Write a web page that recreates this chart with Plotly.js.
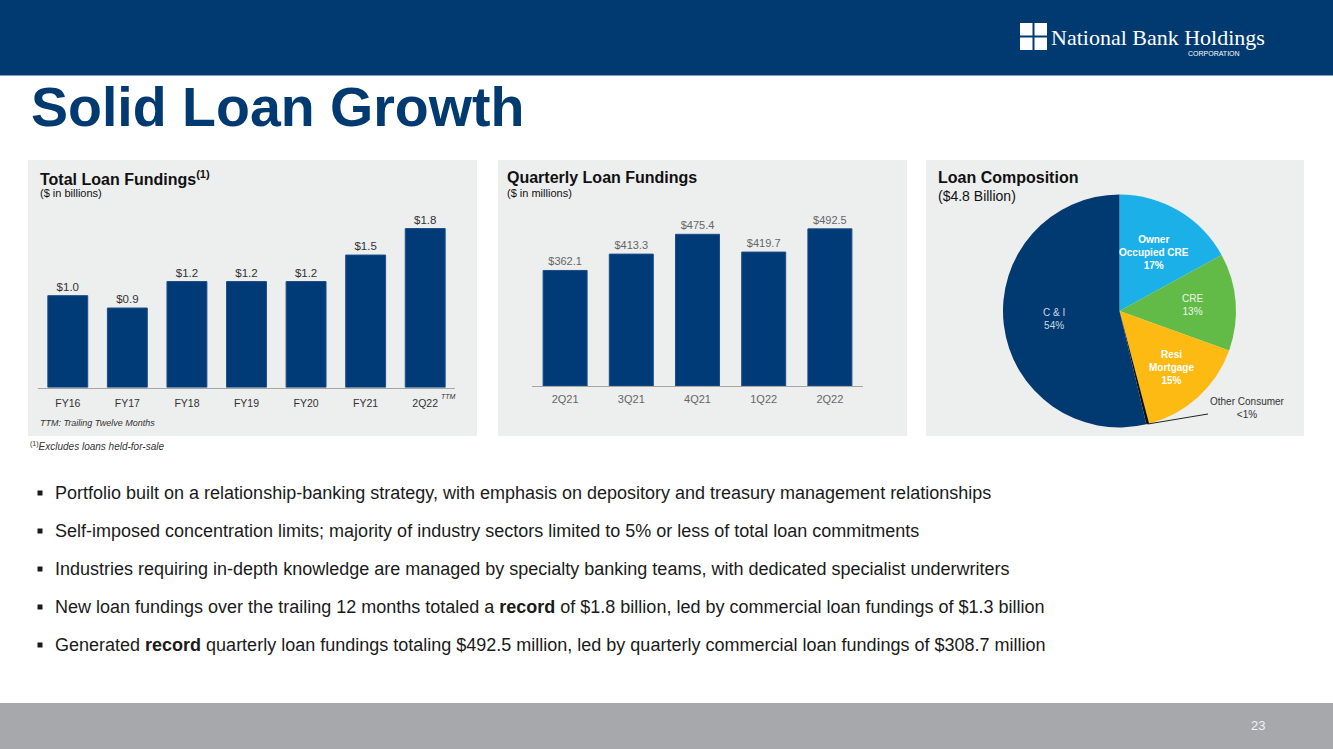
<!DOCTYPE html>
<html><head><meta charset="utf-8">
<script src="https://cdn.plot.ly/plotly-3.0.1.min.js"></script>
<style>html,body{margin:0;padding:0;background:#fff;}#chart{width:1333px;height:749px;}</style>
</head><body><div id="chart"></div>
<script>
// ---------- data ----------
const annualCategories = ["FY16","FY17","FY18","FY19","FY20","FY21","2Q22"];
const annualFundings   = [1.04, 0.90, 1.20, 1.20, 1.20, 1.50, 1.80];
const annualLabels     = ["$1.0","$0.9","$1.2","$1.2","$1.2","$1.5","$1.8"];

const quarterCategories = ["2Q21","3Q21","4Q21","1Q22","2Q22"];
const quarterFundings   = [362.1, 413.3, 475.4, 419.7, 492.5];
const quarterLabels     = ["$362.1","$413.3","$475.4","$419.7","$492.5"];

const pieCategories  = ["Owner<br>Occupied CRE","CRE","Resi<br>Mortgage","Other Consumer","C & I"];
const pieShares      = [17.0, 13.5, 15.4, 0.4, 53.7];
const pieShareLabels = ["17%","13%","15%","<1%","54%"];

const bulletTexts = [
  "Portfolio built on a relationship-banking strategy, with emphasis on depository and treasury management relationships",
  "Self-imposed concentration limits; majority of industry sectors limited to 5% or less of total loan commitments",
  "Industries requiring in-depth knowledge are managed by specialty banking teams, with dedicated specialist underwriters",
  "New loan fundings over the trailing 12 months totaled a <b>record</b> of $1.8 billion, led by commercial loan fundings of $1.3 billion",
  "Generated <b>record</b> quarterly loan fundings totaling $492.5 million, led by quarterly commercial loan fundings of $308.7 million"
];

// ---------- helpers / styles ----------
const W = 1333, H = 749;
const X = p => p / W, Y = p => 1 - p / H;
const F = "Liberation Sans, Arial, sans-serif";
const NAVY = "#003A70", BAR = "#003B77", PANEL = "#EDEEEE";
const pieColors = ["#1CB0E9","#61BB46","#FDBA13","#111111","#003A70"];
const pieLabelStyle = [
  {rf:0.58, bold:true,  color:"#ffffff"},
  {rf:0.63, bold:false, color:"#eef6ea"},
  {rf:0.66, bold:true,  color:"#ffffff"},
  null,
  {rf:0.57, bold:false, color:"#cfd8e6"}
];
const pieCx = 1119.5, pieCy = 311, pieR = 116.5;
const esc = s => s.replace(/</g,"&lt;");

const traces = [
  {type:"bar", x:annualCategories, y:annualFundings, text:annualLabels,
   textposition:"outside", cliponaxis:false, constraintext:"none",
   textfont:{family:F, size:11.5, color:"#333333"},
   marker:{color:BAR, line:{color:"#1d4f86", width:1}}, width:0.67,
   xaxis:"x", yaxis:"y", hoverinfo:"skip"},
  {type:"bar", x:quarterCategories, y:quarterFundings, text:quarterLabels,
   textposition:"outside", cliponaxis:false, constraintext:"none",
   textfont:{family:F, size:11, color:"#666666"},
   marker:{color:BAR, line:{color:"#1d4f86", width:1}}, width:0.665,
   xaxis:"x2", yaxis:"y2", hoverinfo:"skip"},
  {type:"pie", values:pieShares, labels:pieCategories, sort:false, direction:"clockwise",
   rotation:0, textinfo:"none", hoverinfo:"skip", showlegend:false,
   marker:{colors:pieColors, line:{width:0}},
   domain:{x:[X(pieCx-pieR), X(pieCx+pieR)], y:[Y(pieCy+pieR), Y(pieCy-pieR)]}}
];

const rect = (x0,y0,x1,y1,color,layer) => ({type:"rect", xref:"paper", yref:"paper",
  x0:X(x0), x1:X(x1), y0:Y(y1), y1:Y(y0), fillcolor:color, line:{width:0}, layer:layer||"below"});

const shapes = [
  rect(0,0,W,75.5,NAVY),
  rect(0,703,W,H,"#A7A8AB"),
  rect(28,160,477,436,PANEL),
  rect(498,160,907,436,PANEL),
  rect(926,160,1304,436,PANEL),
  rect(1020,23,1032.5,35.5,"#ffffff","above"),
  rect(1034.5,23,1047,35.5,"#ffffff","above"),
  rect(1020,37.5,1032.5,50,"#ffffff","above"),
  rect(1034.5,37.5,1047,50,"#ffffff","above")
];
const bulletY = [493, 531, 569, 607, 645];
bulletY.forEach(y => shapes.push(rect(37.5, y-2.5, 42.5, y+2.5, "#1a1a1a", "above")));

const ann = (x,y,text,size,color,opts) => Object.assign({xref:"paper", yref:"paper",
  x:X(x), y:Y(y), text:text, showarrow:false, xanchor:"left", yanchor:"middle",
  font:{family:F, size:size, color:color}}, opts||{});

const annotations = [
  ann(29,107,"<b>Solid Loan Growth</b>",55.5,NAVY),
  ann(1049,37,"National Bank Holdings",22,"#ffffff",{font:{family:"Liberation Serif, Times New Roman, serif", size:22, color:"#ffffff"}}),
  ann(1214,54,"CORPORATION",7,"#ffffff",{xanchor:"center"}),
  ann(1258,725,"23",13,"#f2f2f2",{xanchor:"center"}),
  ann(38,178,"<b>Total Loan Fundings<sup>(1)</sup></b>",16,"#111111"),
  ann(38,193,"($ in billions)",11,"#111111"),
  ann(505,178,"<b>Quarterly Loan Fundings</b>",16,"#111111"),
  ann(505,193,"($ in millions)",11,"#111111"),
  ann(936,178,"<b>Loan Composition</b>",16,"#111111"),
  ann(936,196,"($4.8 Billion)",14,"#111111"),
  ann(448,396,"<i>TTM</i>",7,"#333333",{xanchor:"center"}),
  ann(38,423,"<i>TTM: Trailing Twelve Months</i>",9,"#333333"),
  ann(28,446,"<sup>(1)</sup><i>Excludes loans held-for-sale</i>",10,"#333333")
];
bulletTexts.forEach((t,i) => annotations.push(ann(53, bulletY[i], t, 18, "#1a1a1a")));

// pie slice labels positioned on each slice's mid-angle
const total = pieShares.reduce((a,b)=>a+b,0);
let cum = 0;
pieShares.forEach((v,i) => {
  const mid = (cum + v/2) / total * 2 * Math.PI;
  cum += v;
  const st = pieLabelStyle[i];
  const txt = pieCategories[i] + "<br>" + esc(pieShareLabels[i]);
  if (st) {
    const px = pieCx + st.rf * pieR * Math.sin(mid);
    const py = pieCy - st.rf * pieR * Math.cos(mid);
    annotations.push(ann(px, py, st.bold ? "<b>"+txt+"</b>" : txt, 10, st.color, {xanchor:"center"}));
  } else {
    const ex = pieCx + pieR * Math.sin(mid), ey = pieCy - pieR * Math.cos(mid);
    annotations.push({xref:"paper", yref:"paper", x:X(ex), y:Y(ey), text:txt,
      showarrow:true, arrowhead:0, arrowwidth:1, arrowcolor:"#222222",
      ax:1247-ex, ay:407.5-ey, font:{family:F, size:10, color:"#333333"}});
  }
});

const axisX = (dom, anchor, tf, so) => ({domain:dom, anchor:anchor, showline:true, linecolor:"#A6A6A6",
  linewidth:1, showgrid:false, zeroline:false, ticks:"", tickfont:tf, ticklabelstandoff:so,
  fixedrange:true, type:"category"});
const layout = {
  width:W, height:H, margin:{l:0,r:0,t:0,b:0}, paper_bgcolor:"#ffffff", plot_bgcolor:"rgba(0,0,0,0)",
  showlegend:false, font:{family:F},
  xaxis: axisX([X(38),X(455)], "y", {family:F, size:10.5, color:"#333333"}, 6),
  yaxis: {domain:[Y(387.5),Y(210.9)], range:[0,2.0], visible:false, fixedrange:true},
  xaxis2: axisX([X(532),X(863)], "y2", {family:F, size:11, color:"#666666"}, 3),
  yaxis2: {domain:[Y(386),Y(210.5)], range:[0,550], visible:false, fixedrange:true},
  shapes:shapes, annotations:annotations
};
Plotly.newPlot("chart", traces, layout, {displayModeBar:false, staticPlot:true});
</script></body></html>
